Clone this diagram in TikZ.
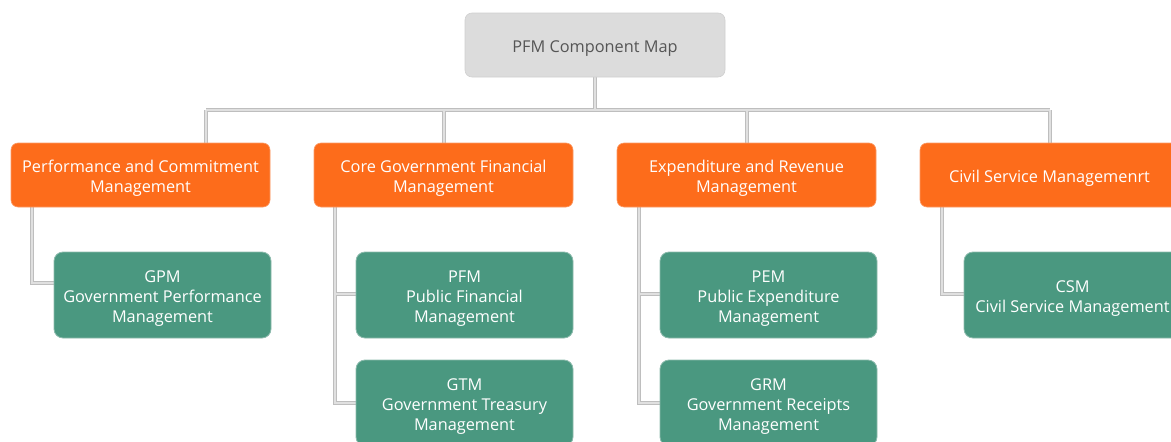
\documentclass[tikz,border=0pt]{standalone}
\usepackage{fontspec}
\setmainfont{Open Sans}
\usetikzlibrary{backgrounds}
\definecolor{rootfill}{HTML}{DCDCDC}
\definecolor{rootdraw}{HTML}{D0D0D0}
\definecolor{roottext}{HTML}{555555}
\definecolor{orfill}{HTML}{FD6C1B}
\definecolor{ordraw}{HTML}{FB9A66}
\definecolor{grfill}{HTML}{4A9880}
\definecolor{grdraw}{HTML}{8DBBAD}
\definecolor{connout}{HTML}{BEBEBE}
\definecolor{connin}{HTML}{E0E0E0}
\tikzset{
  boxtext/.style={align=center, font=\fontsize{16.3}{20}\selectfont, inner sep=0pt, yshift=-3.5pt},
  rootbox/.style={rectangle, rounded corners=7pt, fill=rootfill, draw=rootdraw, line width=0.6pt,
    minimum width=260pt, minimum height=64pt, inner sep=0pt,
    label={[boxtext, text=roottext]center:{#1}}},
  catbox/.style={rectangle, rounded corners=7pt, fill=orfill, draw=ordraw, line width=0.6pt,
    minimum width=259pt, minimum height=64pt, inner sep=0pt,
    label={[boxtext, text=white]center:{#1}}},
  itembox/.style={rectangle, rounded corners=9pt, fill=grfill, draw=grdraw, line width=0.8pt,
    minimum width=217pt, minimum height=86pt, inner sep=0pt,
    label={[boxtext, text=white]center:{#1}}},
  connA/.style={draw=connout, line width=4pt},
  connB/.style={draw=connin, line width=2pt},
}
\begin{document}
\begin{tikzpicture}[x=1pt,y=-1pt]
\clip (0,0) rectangle (1171,442);
% nodes
\node[rootbox={PFM Component Map}] (root) at (595,45) {};
\node[catbox={Performance and Commitment\\Management}] (o1) at (140.5,175) {};
\node[catbox={Core Government Financial\\Management}] (o2) at (443.5,175) {};
\node[catbox={Expenditure and Revenue\\Management}] (o3) at (746.5,175) {};
\node[catbox={Civil Service Managemenrt}] (o4) at (1049.5,175) {};
\node[itembox={GPM\\Government Performance\\Management}] (g1) at (162.5,295) {};
\node[itembox={PFM\\Public Financial\\Management}] (g2) at (464.5,295) {};
\node[itembox={GTM\\Government Treasury\\Management}] (g3) at (464.5,403) {};
\node[itembox={PEM\\Public Expenditure\\Management}] (g4) at (768.5,295) {};
\node[itembox={GRM\\Government Receipts\\Management}] (g5) at (768.5,403) {};
\node[itembox={CSM\\Civil Service Management}] (g6) at (1072.5,295) {};
% coordinates
\coordinate (bus) at (595,110);
\coordinate (d1) at (206,110);
\coordinate (d2) at (444,110);
\coordinate (d3) at (747,110);
\coordinate (d4) at (1050,110);
\coordinate (t1) at (32,283);
\coordinate (t2) at (335,283);
\coordinate (t3) at (639,283);
\coordinate (t4) at (942,283);
\begin{pgfonlayer}{background}
\foreach \s in {connA,connB}{
  \draw[\s] (root.south) -- (bus);
  \draw[\s] (d1) -- (d4);
  \draw[\s] (d1) -- (d1 |- o1.north);
  \draw[\s] (d2) -- (d2 |- o2.north);
  \draw[\s] (d3) -- (d3 |- o3.north);
  \draw[\s] (d4) -- (d4 |- o4.north);
  \draw[\s] (t1 |- o1.south) |- ([yshift=12pt]g1.west);
  \draw[\s] (t2 |- o2.south) |- ([yshift=1pt]g2.west);
  \draw[\s] (t2 |- o2.south) |- (g3.west);
  \draw[\s] (t3 |- o3.south) |- ([yshift=1pt]g4.west);
  \draw[\s] (t3 |- o3.south) |- (g5.west);
  \draw[\s] (t4 |- o4.south) |- ([yshift=1pt]g6.west);
}
\end{pgfonlayer}
\end{tikzpicture}
\end{document}
